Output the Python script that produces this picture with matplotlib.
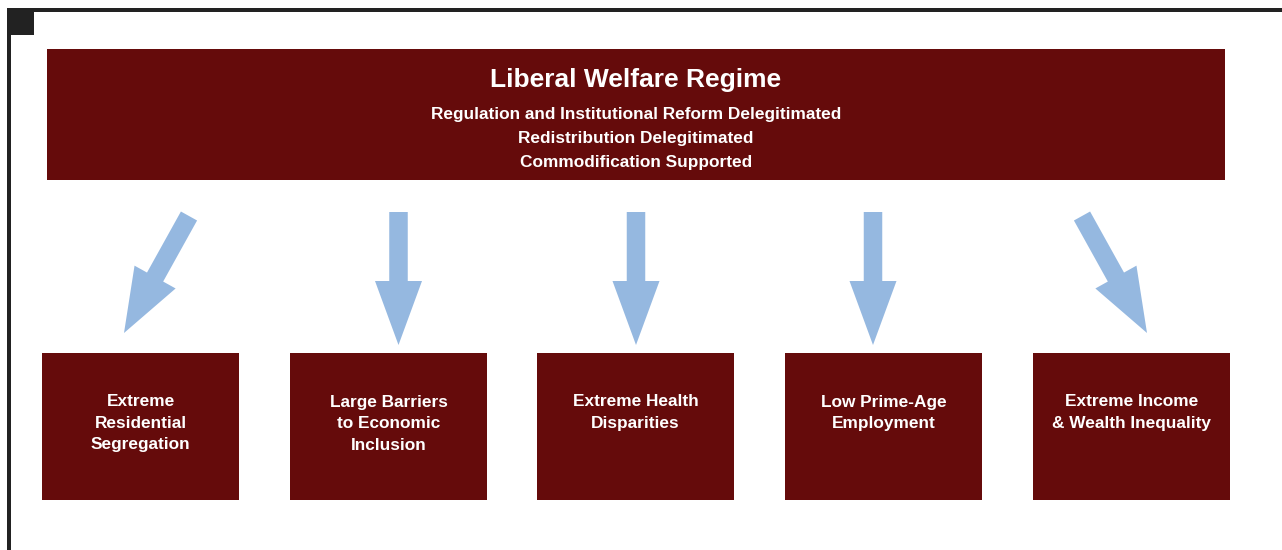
import matplotlib
matplotlib.use("Agg")
import matplotlib.pyplot as plt
from matplotlib.patches import Rectangle, FancyArrow

plt.rcParams['font.family'] = ['Liberation Sans', 'DejaVu Sans']

title = "Liberal Welfare Regime"
subtitles = ["Regulation and Institutional Reform Delegitimated",
             "Redistribution Delegitimated",
             "Commodification Supported"]
outcomes = ["Extreme\nResidential\nSegregation",
            "Large Barriers\nto Economic\nInclusion",
            "Extreme Health\nDisparities",
            "Low Prime-Age\nEmployment",
            "Extreme Income\n& Wealth Inequality"]

BOX = '#650B0B'
ARROW = '#95B8E0'
DARK = '#222222'

W, H = 1282, 550
fig = plt.figure(figsize=(W / 100, H / 100), dpi=100)
ax = fig.add_axes([0, 0, 1, 1])
ax.set_xlim(0, W)
ax.set_ylim(H, 0)
ax.axis('off')

# frame
ax.add_patch(Rectangle((7, 8), W - 7, 3.5, color=DARK, lw=0))
ax.add_patch(Rectangle((7, 8), 3.5, H - 8, color=DARK, lw=0))
ax.add_patch(Rectangle((7, 8), 27, 27, color=DARK, lw=0))

# top box
ax.add_patch(Rectangle((47, 49), 1178, 131, color=BOX, lw=0))
ax.text(636, 80, title, color='white', fontsize=19, fontweight='bold',
        ha='center', va='center')
for i, s in enumerate(subtitles):
    ax.text(636, 115 + i * 23.5, s, color='white', fontsize=12.4,
            fontweight='bold', ha='center', va='center')

# bottom boxes
box_x = [42, 290, 537, 785, 1033]
bw, by, bh = 197, 353, 147
for x0, lab in zip(box_x, outcomes):
    ax.add_patch(Rectangle((x0, by), bw, bh, color=BOX, lw=0))
    for j, line in enumerate(lab.split('\n')):
        ax.text(x0 + bw / 2, 402 + j * 21.5, line, color='white',
                fontsize=12.4, fontweight='bold', ha='center', va='center')

# arrows (tail -> tip)
arrows = [((189, 216), (124, 333)),
          ((398.5, 212), (398.5, 345)),
          ((636, 212), (636, 345)),
          ((873, 212), (873, 345)),
          ((1082, 216), (1147, 333))]
for (x0, y0), (x1, y1) in arrows:
    ax.add_patch(FancyArrow(x0, y0, x1 - x0, y1 - y0, width=18.5,
                            head_width=47, head_length=64,
                            length_includes_head=True, color=ARROW, lw=0))

fig.savefig('out.png', dpi=100)
